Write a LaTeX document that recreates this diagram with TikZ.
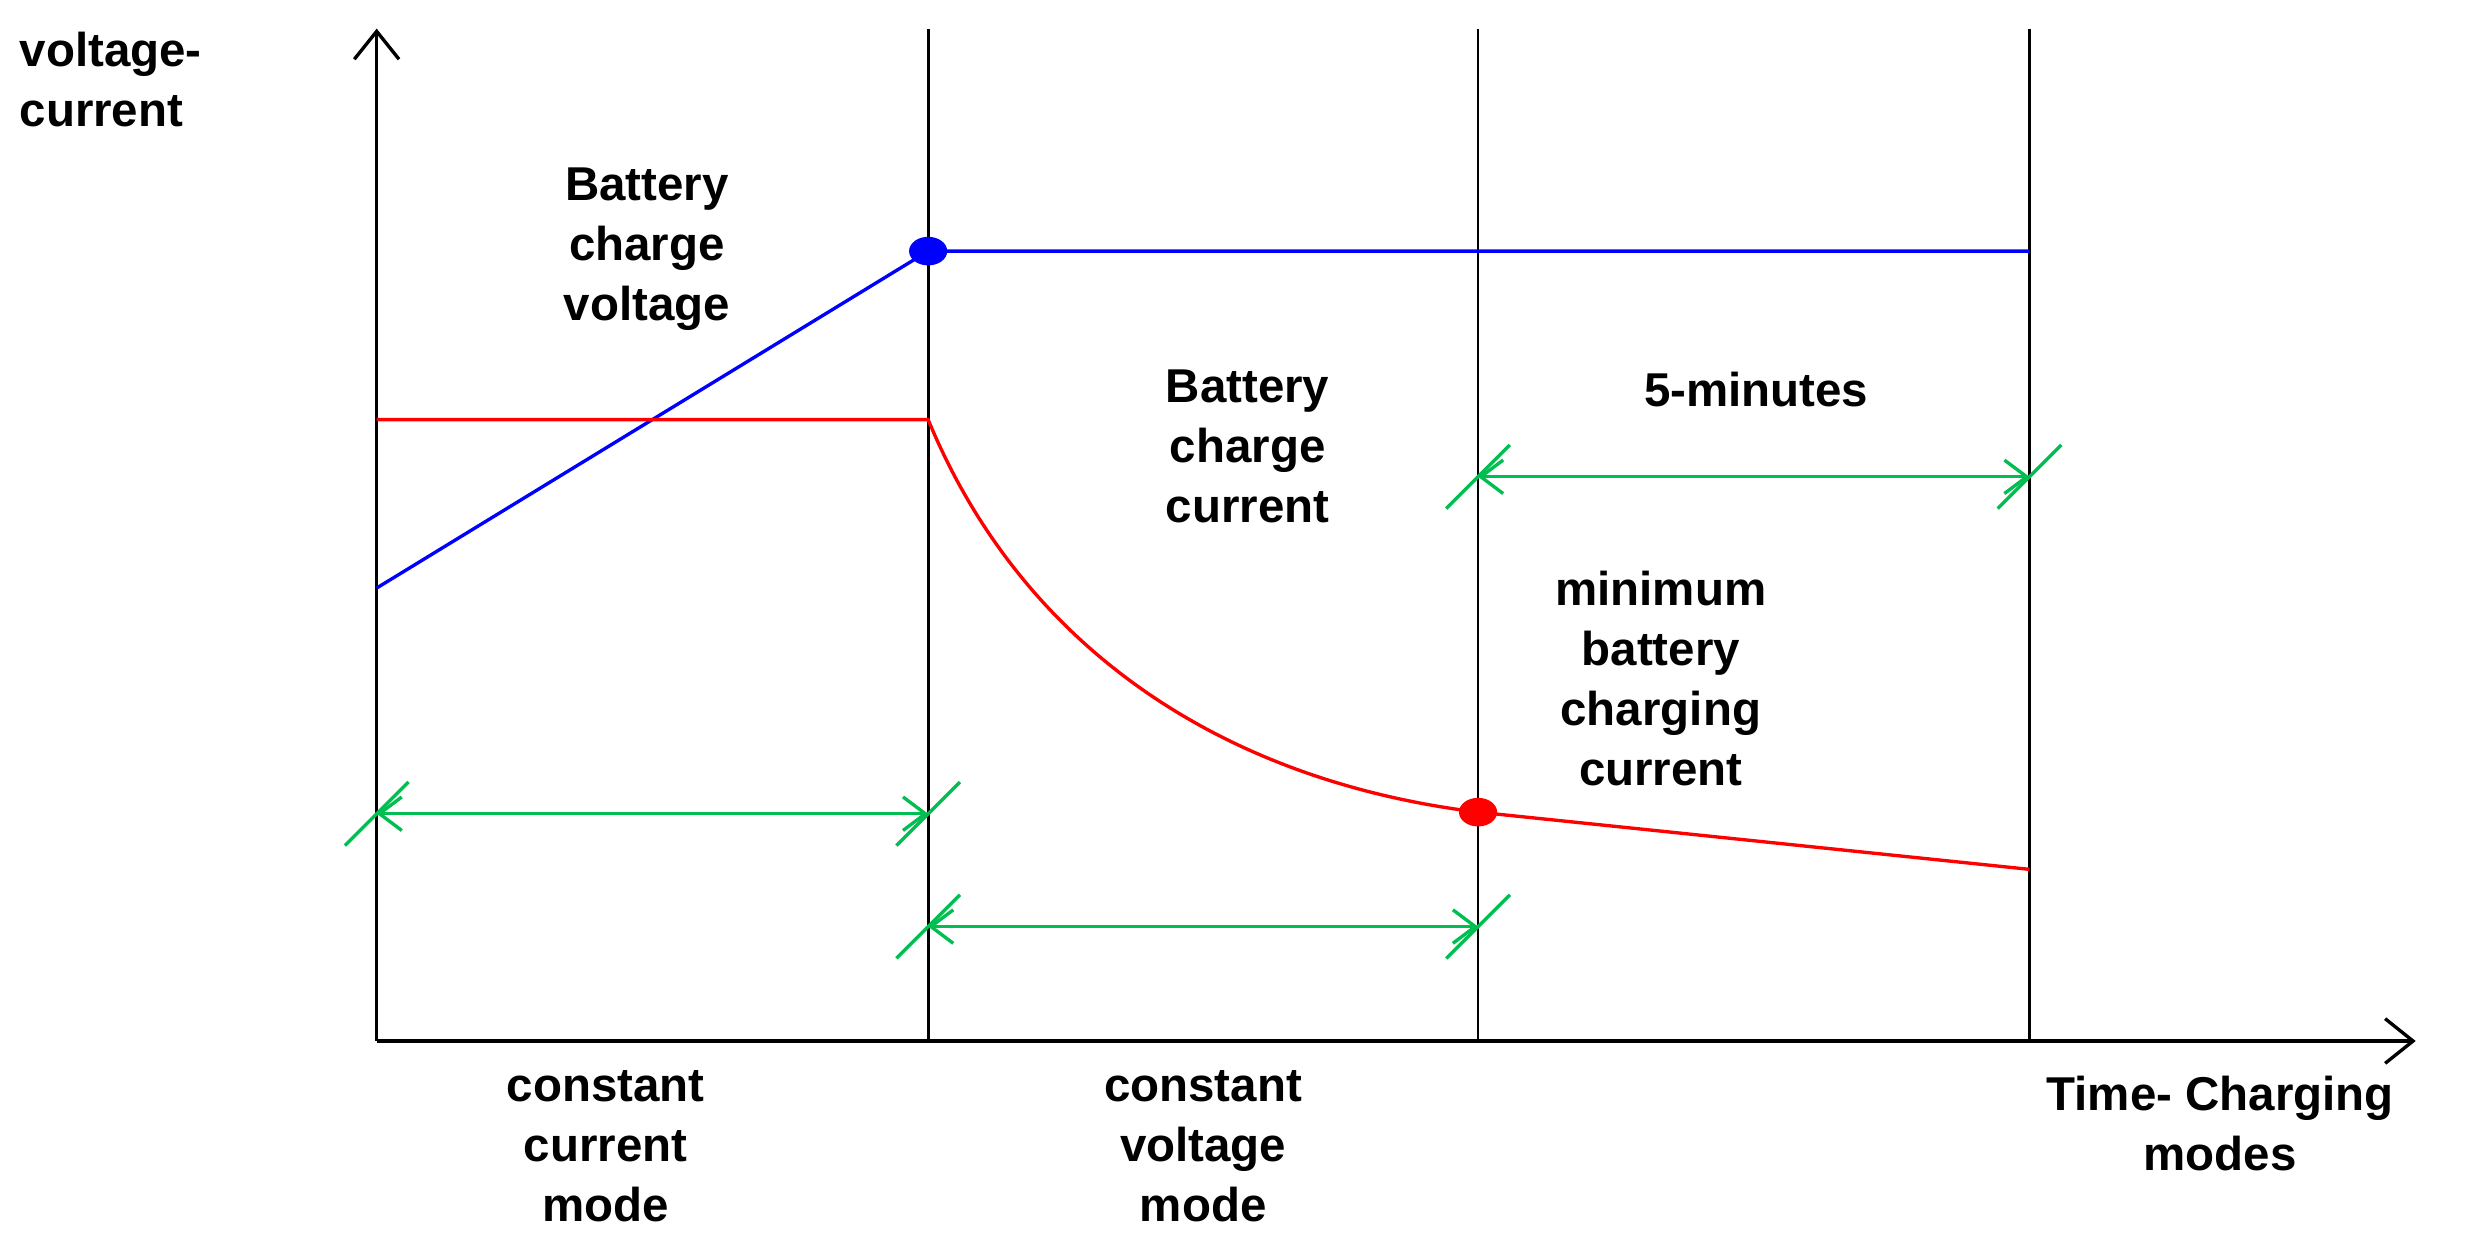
\documentclass[tikz,border=0pt]{standalone}
\usepackage{fontspec}
\setmainfont{Liberation Sans}
\usetikzlibrary{arrows.meta,calc}
\begin{document}
\begin{tikzpicture}[x=0.02cm,y=-0.02cm,
  lbl/.style={font=\fontsize{17}{21.5}\selectfont\bfseries,align=center,inner sep=0},
  ax/.style={line width=1.2pt,-{Straight Barb[length=10pt,width=16pt]}},
  grn/.style={draw={rgb,255:red,0;green,190;blue,80},line width=1.2pt},
  garrow/.style={grn,{Straight Barb[length=8pt,width=12pt]}-{Straight Barb[length=8pt,width=12pt]}}]
\useasboundingbox (0,0) rectangle (1568,789);
\coordinate (O) at (237,655);
\coordinate (Ytop) at (237,18);
\coordinate (Xend) at (1520,655);
\draw[ax] (O) -- (Ytop);
\draw[ax] (O) -- (Xend);
\foreach \x/\n in {584/a,930/b,1277/c}{
  \coordinate (\n t) at (\x,18); \coordinate (\n b) at (\x,655);
  \draw[line width=1pt] (\n t) -- (\n b);}
% blue
\coordinate (b0) at (237,370); \coordinate (b1) at (584,158); \coordinate (b2) at (1277,158);
\draw[blue,line width=1.2pt] (b0) -- (b1) -- (b2);
\fill[blue] (b1) ellipse (12 and 9);
% red
\coordinate (r0) at (237,264); \coordinate (r1) at (584,264); \coordinate (r2) at (930,511); \coordinate (r3) at (1277,547);
\draw[red,line width=1.2pt] (r0) -- (r1) .. controls (640,400) and (760,490) .. (r2) -- (r3);
\fill[red] (r2) ellipse (12 and 9);
% green
\foreach \xa/\xb/\y in {237/584/512,584/930/583,930/1277/300}{
  \coordinate (g1) at (\xa,\y); \coordinate (g2) at (\xb,\y);
  \draw[garrow] (g1) -- (g2);
  \draw[grn] ($(g1)+(-20,20)$) -- ($(g1)+(20,-20)$);
  \draw[grn] ($(g2)+(-20,20)$) -- ($(g2)+(20,-20)$);}
\node[lbl,align=left,anchor=west] (yl) at (12,50) {voltage-\\current};
\node[lbl] (bv) at (407,157) {Battery\\charge\\voltage};
\node[lbl] (bc) at (785,281) {Battery\\charge\\current};
\node[lbl] (fm) at (1105,245) {5-minutes};
\node[lbl] (mb) at (1045,427) {minimum\\battery\\charging\\current};
\node[lbl] (cc) at (381,721) {constant\\current\\mode};
\node[lbl] (cv) at (757,721) {constant\\voltage\\mode};
\node[lbl] (tc) at (1397,707) {Time- Charging\\modes};
\end{tikzpicture}
\end{document}
